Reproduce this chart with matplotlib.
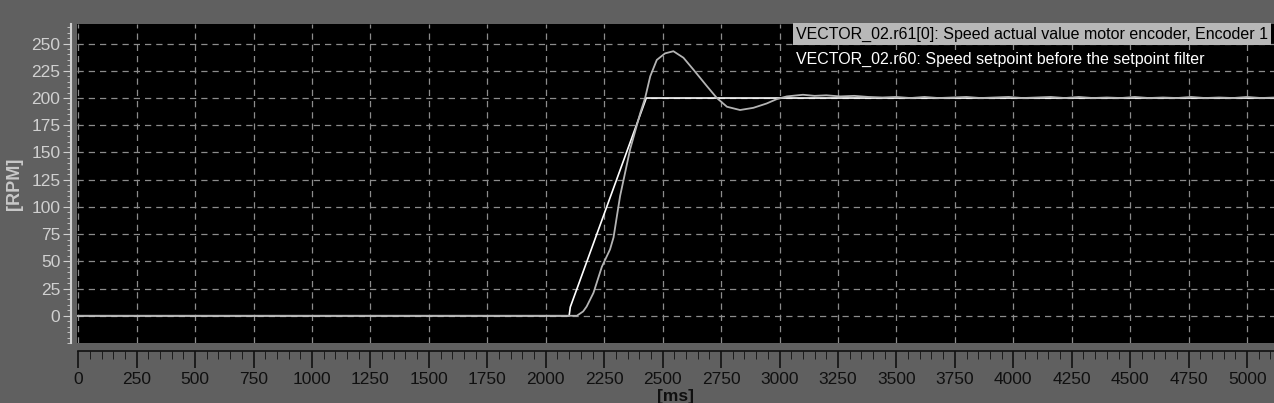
import numpy as np
import matplotlib.pyplot as plt
from matplotlib.ticker import MultipleLocator

# setpoint r60 (ms, rpm)
t_set = [0, 2100, 2105, 2430, 5120]
v_set = [0, 0, 8, 200, 200]

# actual value r61[0] (ms, rpm)
t_act = [0, 2133, 2160, 2175, 2204, 2240, 2275, 2290, 2318, 2361, 2404, 2425,
         2447, 2475, 2510, 2546, 2589, 2632, 2689, 2732, 2775, 2831, 2888,
         2945, 2988, 3031, 3100, 3150, 3200, 3260, 3320, 3380, 3440, 3500,
         3560, 3620, 3680, 3740, 3800, 3860, 3920, 3980, 4040, 4100, 4160,
         4220, 4280, 4340, 4400, 4460, 4520, 4580, 4640, 4700, 4760, 4820,
         4880, 4940, 5000, 5060, 5120]
v_act = [0, 0, 4, 8.5, 21, 45, 61, 72, 110, 153, 186, 200,
         220, 235, 241, 243, 237, 226, 211, 200, 192, 189, 191,
         195, 199, 201.5, 203, 202, 202.5, 201.5, 202, 201, 200.5, 201,
         200, 201, 200, 200.5, 201, 200, 200.5, 201, 200, 200.5, 201,
         200, 201, 200, 200.5, 200, 201, 200, 200.5, 200, 201, 200,
         200.5, 200, 201, 200, 200.5]

x_ticks = np.arange(0, 5001, 250)
y_ticks = np.arange(0, 251, 25)

legend_labels = ["VECTOR_02.r61[0]: Speed actual value motor encoder, Encoder 1",
                 "VECTOR_02.r60: Speed setpoint before the setpoint filter"]

plt.rcParams['font.family'] = ['Liberation Sans', 'DejaVu Sans']
bg = "#606060"

fig = plt.figure(figsize=(12.74, 4.03), dpi=100, facecolor=bg)
ax = fig.add_axes([77 / 1274, 60 / 403, 1 - 77 / 1274, 319 / 403])
ax.set_facecolor("black")

ax.plot(t_set, v_set, color="white", lw=1.2, zorder=3)
ax.plot(t_act, v_act, color="#b4b4b4", lw=1.3, zorder=4)

ax.set_xlim(-5, 5115)
ax.set_ylim(-25, 268)

ax.set_xticks(x_ticks)
ax.set_yticks(y_ticks)
ax.xaxis.set_minor_locator(MultipleLocator(50))
ax.yaxis.set_minor_locator(MultipleLocator(5))
ax.grid(True, which="major", color="#8c8c8c", ls=(0, (5, 4)), lw=0.9)
ax.set_axisbelow(True)

for s in ["top", "right"]:
    ax.spines[s].set_visible(False)
ax.spines["left"].set_position(("outward", 4))
ax.spines["left"].set_color("#d0d0d0")
ax.spines["left"].set_linewidth(1.5)
ax.spines["bottom"].set_position(("outward", 6))
ax.spines["bottom"].set_color("#101010")
ax.spines["bottom"].set_linewidth(1.2)
ax.spines["bottom"].set_bounds(0, 5115)

ax.tick_params(axis="y", which="major", length=6, color="#d0d0d0",
               labelcolor="#d0d0d0", labelsize=12.5, pad=2)
ax.tick_params(axis="y", which="minor", length=3, color="#d0d0d0")
ax.tick_params(axis="x", which="major", length=12, width=1.2, color="#101010",
               labelcolor="#101010", labelsize=12.5, pad=3)
ax.tick_params(axis="x", which="minor", length=6, color="#101010")

ax.set_xlabel("[ms]", fontsize=12.5, fontweight="bold", color="#101010", labelpad=1)
ax.set_ylabel("[RPM]", fontsize=13, fontweight="bold", color="#c8c8c8", labelpad=6)

# signal legend in the top right corner
ax.text(0.6005, 0.992, legend_labels[0], transform=ax.transAxes, fontsize=11.5,
        color="black", va="top", ha="left", zorder=6,
        bbox=dict(boxstyle="square,pad=0.2", fc="#b8b8b8", ec="none"))
ax.text(0.6005, 0.912, legend_labels[1], transform=ax.transAxes, fontsize=11.5,
        color="white", va="top", ha="left", zorder=6,
        bbox=dict(boxstyle="square,pad=0.15", fc="black", ec="none"))

fig.savefig("out.png", dpi=100, facecolor=bg)
